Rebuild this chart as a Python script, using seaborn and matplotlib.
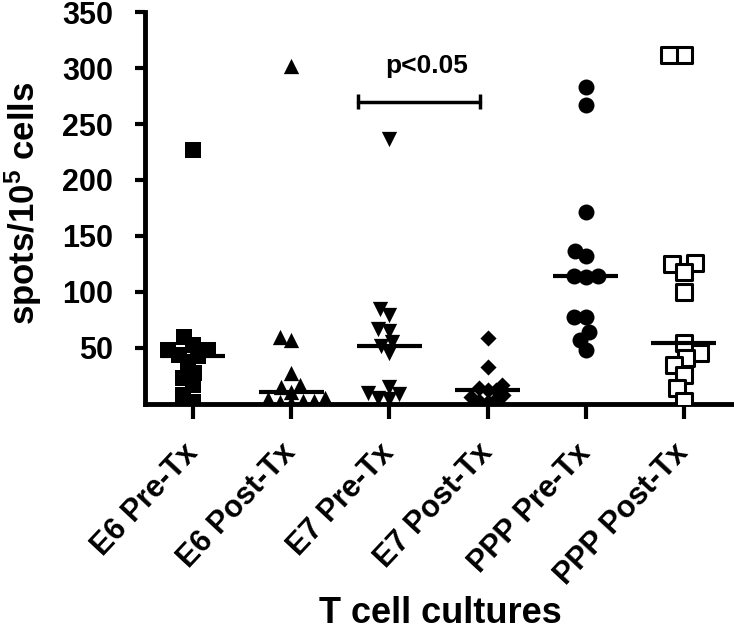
import numpy as np
import pandas as pd
import matplotlib
matplotlib.use('Agg')
import matplotlib.pyplot as plt
import seaborn as sns

groups = ['E6 Pre-Tx', 'E6 Post-Tx', 'E7 Pre-Tx', 'E7 Post-Tx', 'PPP Pre-Tx', 'PPP Post-Tx']
e6_pre = [227, 60, 53, 48, 48, 44, 43, 37, 28, 23, 17, 8, 2]
e6_post = [302, 60, 57, 28, 17, 15, 11, 5, 4, 3, 3, 2, 1]
e7_pre = [237, 85, 79, 67, 65, 55, 52, 45, 15, 10, 9, 5, 4]
e7_post = [59, 33, 17, 14, 12, 12, 8, 6, 4, 3, 2]
ppp_pre = [283, 267, 171, 137, 132, 114, 114, 113, 78, 78, 64, 57, 48]
ppp_post = [312, 312, 126, 125, 118, 100, 54, 45, 41, 35, 26, 14, 3]
all_vals = [e6_pre, e6_post, e7_pre, e7_post, ppp_pre, ppp_post]

markers = ['s', '^', 'v', 'D', 'o', 's']
sizes = [11.5, 11, 11, 8.2, 11.5, 11]

sns.set_style('ticks')
plt.rcParams['font.family'] = ['Liberation Sans', 'DejaVu Sans']
plt.rcParams['font.weight'] = 'bold'
plt.rcParams['text.color'] = 'black'
plt.rcParams['axes.labelcolor'] = 'black'
plt.rcParams['axes.edgecolor'] = 'black'
plt.rcParams['xtick.color'] = 'black'
plt.rcParams['ytick.color'] = 'black'
plt.rcParams['mathtext.fontset'] = 'custom'
plt.rcParams['mathtext.bf'] = 'Liberation Sans:bold'
plt.rcParams['mathtext.rm'] = 'Liberation Sans:bold'
plt.rcParams['mathtext.default'] = 'bf'

fig = plt.figure(figsize=(7.34, 6.37), dpi=100)
ax = fig.add_axes([0.1975, 0.366, 0.801, 0.615])

swarms = []
for i, (g, vals) in enumerate(zip(groups, all_vals)):
    d = pd.DataFrame({'group': g, 'value': vals})
    n_before = len(ax.collections)
    # lay out the swarm a bit tighter than the marker size so points overlap like the original
    if i == 5:
        sns.swarmplot(data=d, x='group', y='value', order=groups, marker=markers[i],
                      size=sizes[i] * 0.72, color='white', edgecolor='black', linewidth=2.2,
                      warn_thresh=1, ax=ax)
    else:
        sns.swarmplot(data=d, x='group', y='value', order=groups, marker=markers[i],
                      size=sizes[i] * 0.72, color='black', linewidth=0, warn_thresh=1, ax=ax)
    swarms.append(ax.collections[n_before:])
    ax.hlines(np.median(vals), i - 0.33, i + 0.33, color='black', lw=3, zorder=5)

# significance bracket
ax.plot([1.68, 2.92], [270, 270], color='black', lw=2.5)
ax.vlines([1.68, 2.92], 263, 277, color='black', lw=2.5)
ax.text(2.38, 302, 'p<0.05', ha='center', va='center', fontsize=19, fontweight='bold')

ax.set_ylim(0, 350)
ax.set_yticks(range(50, 351, 50))
ax.set_xlim(-0.49, 5.5)
sns.despine(ax=ax)
for s in ['left', 'bottom']:
    ax.spines[s].set_linewidth(3.5)
ax.tick_params(axis='y', length=7, width=3, labelsize=22, pad=16)
ax.tick_params(axis='x', length=11, width=3, labelsize=22, pad=21)
for lab in ax.get_xticklabels():
    lab.set_rotation(47)
    lab.set_ha('right')
    lab.set_va('center')
    lab.set_rotation_mode('anchor')
    lab.set_fontweight('bold')
for lab in ax.get_yticklabels():
    lab.set_fontweight('bold')

ax.set_xlabel('T cell cultures', fontsize=26, fontweight='bold')
ax.xaxis.set_label_coords(0.503, -0.49)
ax.set_ylabel('spots/10$^5$ cells', fontsize=25, fontweight='bold')
ax.yaxis.set_label_coords(-0.172, 0.513)

# run the swarm layout once, then freeze it and enlarge the markers
fig.canvas.draw()
for cols, sz in zip(swarms, sizes):
    for c in cols:
        if 'draw' in c.__dict__:
            del c.draw
        c.set_sizes(np.array([sz ** 2]))

fig.savefig('out.png', dpi=100)
